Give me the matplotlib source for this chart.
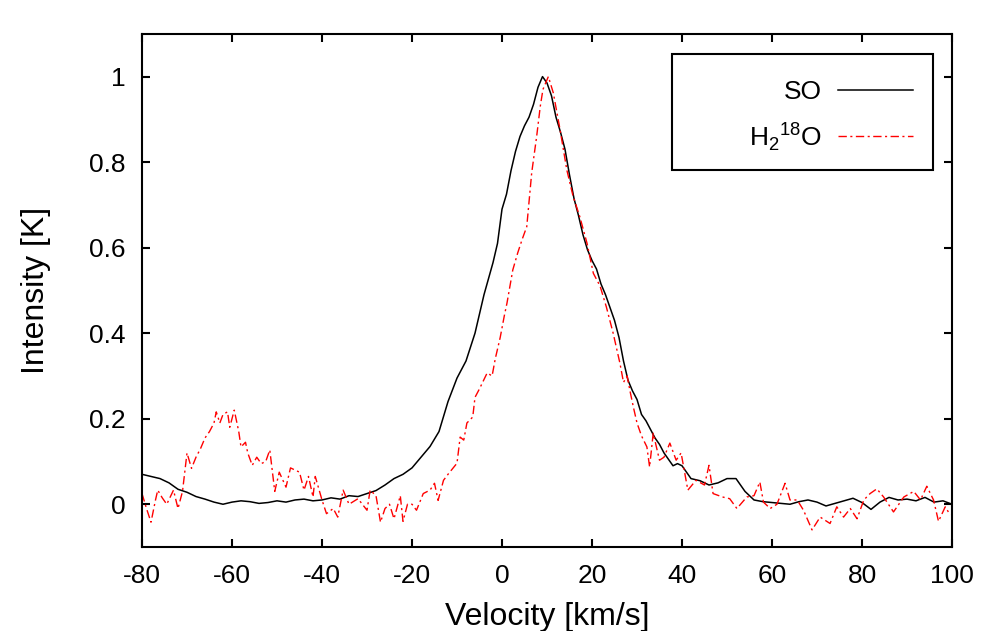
import matplotlib
matplotlib.use("Agg")
import matplotlib.pyplot as plt
import matplotlib.patches as mpatches
import matplotlib.ticker as mticker
import numpy as np

plt.rcParams['font.family'] = ['Liberation Sans', 'DejaVu Sans']
plt.rcParams['axes.unicode_minus'] = False

# SO spectrum (black, solid)
so_vel = [-80, -78, -76, -74, -72, -70, -68, -66, -64, -62, -60, -58, -56, -54, -52, -50,
          -48, -46, -44, -42, -40, -38, -36, -34, -32, -30, -28, -26, -24, -22, -20, -18,
          -16, -14, -12, -10, -8, -6, -4, -2, -1, 0, 1, 2, 3, 4, 5, 6, 7, 8, 9, 10, 11,
          12, 13, 14, 15, 16, 17, 18, 19, 20, 21, 22, 23, 24, 25, 26, 27, 28, 29, 30, 31,
          32, 33, 34, 35, 36, 37, 38, 39, 40, 42, 44, 46, 48, 50, 52, 54, 56, 58, 60, 62,
          64, 66, 68, 70, 72, 74, 76, 78, 80, 82, 84, 86, 88, 90, 92, 94, 96, 98, 100]
so_int = [0.070, 0.065, 0.060, 0.050, 0.035, 0.028, 0.018, 0.012, 0.005, 0.000, 0.005,
          0.008, 0.006, 0.002, 0.004, 0.008, 0.005, 0.010, 0.012, 0.008, 0.010, 0.015,
          0.012, 0.020, 0.018, 0.025, 0.032, 0.045, 0.060, 0.070, 0.085, 0.110, 0.135,
          0.170, 0.240, 0.295, 0.335, 0.400, 0.490, 0.565, 0.610, 0.690, 0.725, 0.780,
          0.825, 0.860, 0.885, 0.905, 0.935, 0.975, 1.000, 0.985, 0.955, 0.905, 0.870,
          0.830, 0.770, 0.715, 0.675, 0.630, 0.595, 0.570, 0.550, 0.515, 0.490, 0.460,
          0.430, 0.390, 0.335, 0.290, 0.265, 0.245, 0.210, 0.195, 0.175, 0.155, 0.140,
          0.120, 0.105, 0.090, 0.095, 0.090, 0.060, 0.055, 0.045, 0.050, 0.060, 0.060,
          0.030, 0.010, 0.006, 0.004, 0.002, 0.000, 0.006, 0.010, 0.005, -0.004, 0.002,
          0.008, 0.014, 0.004, -0.012, 0.005, 0.016, 0.010, 0.012, 0.008, 0.016, 0.005,
          0.008, 0.000]

# H2-18O spectrum (red, dash-dot)
h2o_vel = [-80, -79, -78, -77, -76.5, -75.5, -74.5, -73, -72, -71, -70, -69, -68, -67,
           -66, -65, -64, -63.5, -62.7, -62, -61, -60.5, -59.5, -58.5, -58, -57, -56.5,
           -55.5, -54.5, -53.5, -52.5, -51.6, -50.5, -49.5, -48, -47, -46, -45, -44, -43,
           -42, -41.5, -40, -39, -37.5, -36.5, -35.3, -34, -32, -30, -29.3, -28, -27,
           -26, -25, -24, -22.6, -22, -21, -20, -19, -17.5, -16, -15, -14.2, -13, -12,
           -10, -9.3, -8.5, -7.8, -6.5, -6, -5, -3.3, -2.2, -1.5, -0.4, 0.5, 1.1, 2.4,
           3.5, 4.5, 5.5, 6.6, 7.7, 8.5, 9.1, 10.3, 11.4, 12.9, 14.4, 15.8, 17.3, 18.9,
           20.3, 21.8, 23.2, 24.7, 26.2, 27.0, 27.8, 28.5, 29.2, 30, 31, 32.2, 32.8, 33.6,
           35, 36, 37.3, 38.7, 39.8, 41.3, 43.1, 45, 46, 46.9, 49, 50.6, 52.2, 54.4, 56,
           57.3, 58.1, 59.6, 61.1, 62.9, 64, 65.6, 67, 68.9, 70.7, 72.9, 74.4, 75.9, 77.4,
           78.9, 80.4, 81.8, 83.3, 84.8, 87, 89.3, 91.5, 93, 94.4, 95.9, 97, 98.5, 99.6]
h2o_int = [0.025, -0.010, -0.042, 0.010, 0.033, 0.015, 0.000, 0.033, -0.010, 0.030,
           0.120, 0.084, 0.110, 0.130, 0.155, 0.170, 0.190, 0.216, 0.190, 0.210, 0.216,
           0.180, 0.220, 0.170, 0.134, 0.145, 0.120, 0.091, 0.110, 0.095, 0.100, 0.127,
           0.030, 0.075, 0.040, 0.085, 0.080, 0.075, 0.033, 0.065, 0.017, 0.065, 0.010,
           -0.022, -0.010, -0.030, 0.033, 0.000, 0.013, -0.014, 0.033, 0.020, -0.042,
           -0.010, 0.000, -0.034, 0.020, -0.040, 0.000, 0.000, -0.014, 0.025, 0.033,
           0.049, 0.009, 0.056, 0.070, 0.096, 0.157, 0.150, 0.190, 0.204, 0.250, 0.270,
           0.307, 0.300, 0.340, 0.390, 0.440, 0.470, 0.548, 0.588, 0.620, 0.649, 0.775,
           0.860, 0.930, 0.970, 1.000, 0.962, 0.876, 0.782, 0.720, 0.672, 0.610, 0.540,
           0.510, 0.461, 0.400, 0.330, 0.285, 0.300, 0.262, 0.227, 0.190, 0.160, 0.134,
           0.087, 0.166, 0.103, 0.110, 0.143, 0.103, 0.120, 0.033, 0.056, 0.045, 0.091,
           0.025, 0.017, 0.013, -0.010, 0.017, 0.020, 0.052, 0.005, -0.010, 0.000, 0.049,
           0.010, 0.010, -0.014, -0.060, -0.030, -0.045, -0.006, -0.030, -0.010, -0.034,
           0.010, 0.025, 0.036, 0.017, -0.018, 0.017, 0.030, 0.010, 0.042, 0.010, -0.040,
           -0.006, -0.025]

x_ticks = [-80, -60, -40, -20, 0, 20, 40, 60, 80, 100]
y_ticks = [0, 0.2, 0.4, 0.6, 0.8, 1]

fig = plt.figure(figsize=(10, 6.31), dpi=100)
ax = fig.add_axes([0.142, 0.1331, 0.81, 0.8133])

ax.plot(so_vel, so_int, color='black', lw=1.1, label='SO')
ax.plot(h2o_vel, h2o_int, color='red', lw=1.0, dashes=(6, 2.5, 1.5, 2.5),
        label=r'H$_\mathregular{2}$$^\mathregular{18}$O')

ax.set_xlim(-80, 100)
ax.set_ylim(-0.1, 1.1)
ax.set_xticks(x_ticks)
ax.set_yticks(y_ticks)
ax.yaxis.set_major_formatter(mticker.FormatStrFormatter('%g'))
ax.tick_params(direction='in', length=6, width=1.5, top=True, right=True,
               labelsize=19, pad=12)
for sp in ax.spines.values():
    sp.set_linewidth(1.5)

ax.set_xlabel('Velocity [km/s]', fontsize=23, labelpad=10)
ax.set_ylabel('Intensity [K]', fontsize=23, labelpad=27)

# gnuplot-style key: box drawn separately, text right-aligned before the sample line
box = mpatches.Rectangle((0.654, 0.735), 0.323, 0.226, transform=ax.transAxes,
                         fill=False, lw=1.5, ec='black', zorder=5)
ax.add_patch(box)
ax.legend(loc='upper right', bbox_to_anchor=(0.968, 0.935), frameon=False,
          markerfirst=False, fontsize=19, handlelength=2.85, handletextpad=0.6,
          borderpad=0, labelspacing=0.6)

fig.savefig('out.png', dpi=100)
